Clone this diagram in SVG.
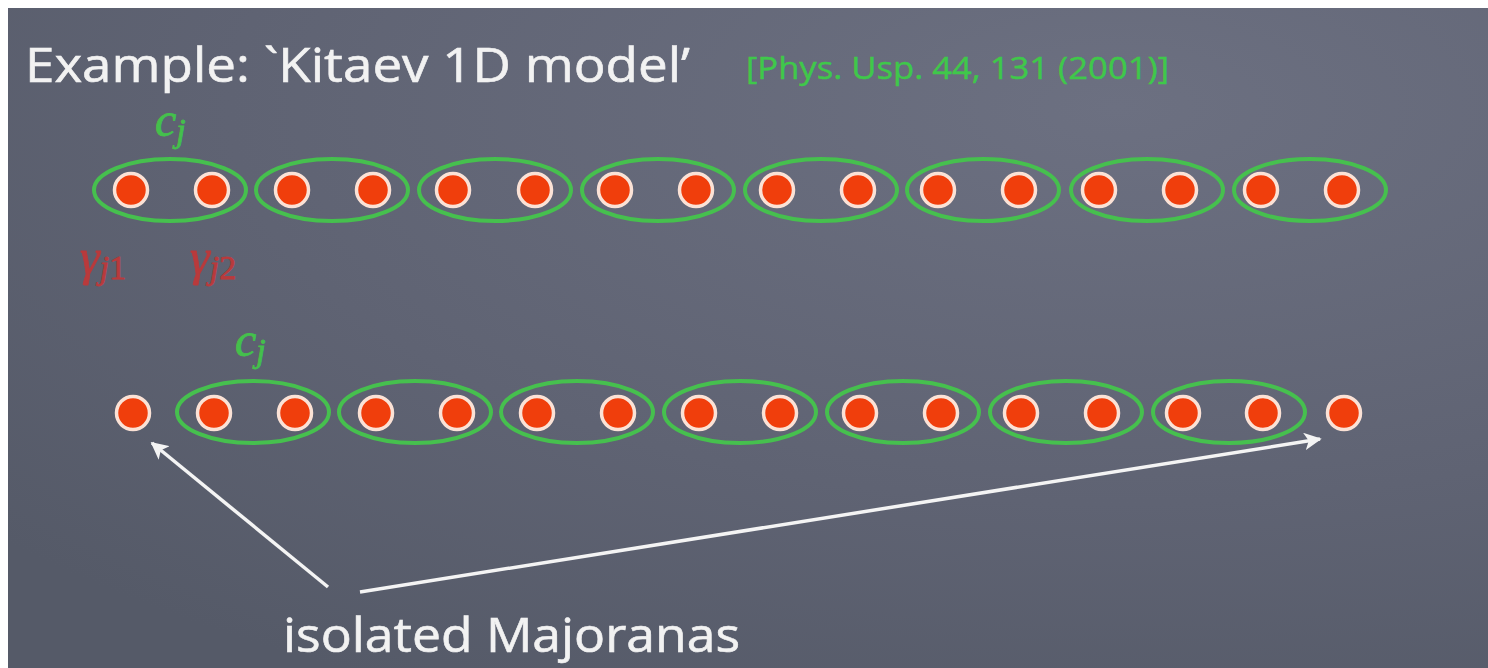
<svg xmlns="http://www.w3.org/2000/svg" width="1488" height="668" viewBox="0 0 1488 668">
<style>
.pair{fill:none;stroke:#46c04e;stroke-width:4}
.dot{fill:#f03e0c;stroke:#fbe2d6;stroke-width:3.5}
.title{font-family:"Open Sans","Liberation Sans",sans-serif;fill:#f2f2f2;stroke:#f2f2f2;stroke-width:0.6}
.ref{font-family:"Open Sans","Liberation Sans",sans-serif;fill:#3fc84a;stroke:#3fc84a;stroke-width:0.4}
.math{font-family:"Liberation Serif","DejaVu Serif",serif;font-style:italic;stroke-width:0.8}
.green{fill:#44c04c;stroke:#44c04c}
.red{fill:#b93a3c;stroke:#b93a3c}
.arrow{stroke:#f4f4f4;stroke-width:3.5;fill:none}
</style>
<defs>
<radialGradient id="bg" cx="0.75" cy="0.15" r="1">
<stop offset="0" stop-color="#6c7081"/>
<stop offset="0.6" stop-color="#5f6373"/>
<stop offset="1" stop-color="#555a68"/>
</radialGradient>
<marker id="ah" viewBox="0 0 10 10" refX="9" refY="5" markerWidth="5" markerHeight="5" orient="auto" markerUnits="strokeWidth">
<path d="M0,0 L10,5 L0,10 L2.5,5 Z" fill="#f4f4f4"/>
</marker>
</defs>
<rect x="0" y="0" width="1488" height="668" fill="#ffffff"/>
<rect x="8" y="8" width="1480" height="660" fill="url(#bg)"/>

<g id="title">
<text class="title" x="25" y="82" font-size="48" textLength="665" lengthAdjust="spacingAndGlyphs">Example: `Kitaev 1D model’</text>
</g>
<g id="reference">
<text class="ref" x="746" y="79" font-size="31" textLength="423" lengthAdjust="spacingAndGlyphs">[Phys. Usp. 44, 131 (2001)]</text>
</g>

<g id="label-cj-top">
<text class="math green" x="155" y="136" font-size="48">c<tspan font-size="34" dy="6">j</tspan></text>
</g>
<g id="label-gamma1">
<text class="math red" x="80" y="274" font-size="50">γ<tspan font-size="34" dy="5">j</tspan><tspan font-size="34" font-style="normal">1</tspan></text>
</g>
<g id="label-gamma2">
<text class="math red" x="190" y="274" font-size="50">γ<tspan font-size="34" dy="5">j</tspan><tspan font-size="34" font-style="normal">2</tspan></text>
</g>
<g id="label-cj-bottom">
<text class="math green" x="235" y="356" font-size="48">c<tspan font-size="34" dy="6">j</tspan></text>
</g>

<g id="top-chain">
<g id="top-pair-1"><ellipse class="pair" cx="170" cy="190" rx="76" ry="31"/><circle class="dot" cx="131" cy="190" r="16.5"/><circle class="dot" cx="212" cy="190" r="16.5"/></g>
<g id="top-pair-2"><ellipse class="pair" cx="332" cy="190" rx="76" ry="31"/><circle class="dot" cx="292" cy="190" r="16.5"/><circle class="dot" cx="373" cy="190" r="16.5"/></g>
<g id="top-pair-3"><ellipse class="pair" cx="495" cy="190" rx="76" ry="31"/><circle class="dot" cx="453" cy="190" r="16.5"/><circle class="dot" cx="535" cy="190" r="16.5"/></g>
<g id="top-pair-4"><ellipse class="pair" cx="658" cy="190" rx="76" ry="31"/><circle class="dot" cx="615" cy="190" r="16.5"/><circle class="dot" cx="696" cy="190" r="16.5"/></g>
<g id="top-pair-5"><ellipse class="pair" cx="821" cy="190" rx="76" ry="31"/><circle class="dot" cx="777" cy="190" r="16.5"/><circle class="dot" cx="858" cy="190" r="16.5"/></g>
<g id="top-pair-6"><ellipse class="pair" cx="983" cy="190" rx="76" ry="31"/><circle class="dot" cx="938" cy="190" r="16.5"/><circle class="dot" cx="1019" cy="190" r="16.5"/></g>
<g id="top-pair-7"><ellipse class="pair" cx="1147" cy="190" rx="76" ry="31"/><circle class="dot" cx="1099" cy="190" r="16.5"/><circle class="dot" cx="1180" cy="190" r="16.5"/></g>
<g id="top-pair-8"><ellipse class="pair" cx="1310" cy="190" rx="76" ry="31"/><circle class="dot" cx="1261" cy="190" r="16.5"/><circle class="dot" cx="1342" cy="190" r="16.5"/></g>
</g>

<g id="bottom-chain">
<g id="bottom-end-left"><circle class="dot" cx="133" cy="413" r="16.5"/></g>
<g id="bottom-pair-1"><ellipse class="pair" cx="253" cy="412" rx="76" ry="31"/><circle class="dot" cx="214" cy="413" r="16.5"/><circle class="dot" cx="295" cy="413" r="16.5"/></g>
<g id="bottom-pair-2"><ellipse class="pair" cx="415" cy="412" rx="76" ry="31"/><circle class="dot" cx="376" cy="413" r="16.5"/><circle class="dot" cx="457" cy="413" r="16.5"/></g>
<g id="bottom-pair-3"><ellipse class="pair" cx="577" cy="412" rx="76" ry="31"/><circle class="dot" cx="537" cy="413" r="16.5"/><circle class="dot" cx="618" cy="413" r="16.5"/></g>
<g id="bottom-pair-4"><ellipse class="pair" cx="740" cy="412" rx="76" ry="31"/><circle class="dot" cx="699" cy="413" r="16.5"/><circle class="dot" cx="780" cy="413" r="16.5"/></g>
<g id="bottom-pair-5"><ellipse class="pair" cx="903" cy="412" rx="76" ry="31"/><circle class="dot" cx="860" cy="413" r="16.5"/><circle class="dot" cx="941" cy="413" r="16.5"/></g>
<g id="bottom-pair-6"><ellipse class="pair" cx="1066" cy="412" rx="76" ry="31"/><circle class="dot" cx="1021" cy="413" r="16.5"/><circle class="dot" cx="1102" cy="413" r="16.5"/></g>
<g id="bottom-pair-7"><ellipse class="pair" cx="1229" cy="412" rx="76" ry="31"/><circle class="dot" cx="1183" cy="413" r="16.5"/><circle class="dot" cx="1263" cy="413" r="16.5"/></g>
<g id="bottom-end-right"><circle class="dot" cx="1344" cy="413" r="16.5"/></g>
</g>

<g id="connectors">
<line class="arrow" x1="328" y1="587" x2="152" y2="443" marker-end="url(#ah)"/>
<line class="arrow" x1="360" y1="592" x2="1320" y2="439" marker-end="url(#ah)"/>
</g>

<g id="label-isolated">
<text class="title" x="283" y="652" font-size="48" textLength="457" lengthAdjust="spacingAndGlyphs">isolated Majoranas</text>
</g>
</svg>
